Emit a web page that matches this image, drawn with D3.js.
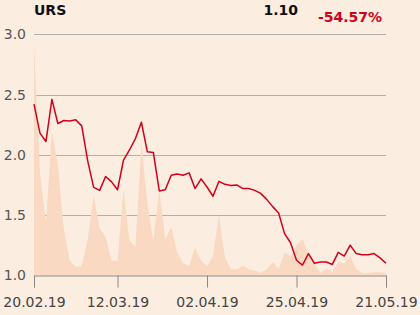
<!DOCTYPE html>
<html>
<head>
<meta charset="utf-8">
<script src="https://cdn.jsdelivr.net/npm/d3@7"></script>
<style>
  body { margin: 0; background: #fcede1; }
  svg { display: block; font-family: "DejaVu Sans", sans-serif; }
</style>
</head>
<body>
<div id="chart"></div>
<script>
// closing prices, one per trading day (20.02.19 .. 21.05.19)
const prices = [
  2.42, 2.18, 2.11, 2.46, 2.26, 2.285, 2.28, 2.29, 2.24, 1.95,
  1.73, 1.705, 1.82, 1.775, 1.71, 1.955, 2.04, 2.135, 2.27, 2.025,
  2.02, 1.70, 1.71, 1.83, 1.84, 1.83, 1.85, 1.72, 1.80, 1.733,
  1.656, 1.78, 1.755, 1.745, 1.75, 1.72, 1.72, 1.705, 1.68, 1.63,
  1.57, 1.517, 1.346, 1.27, 1.125, 1.085, 1.18, 1.10, 1.11, 1.11,
  1.09, 1.19, 1.16, 1.25, 1.18, 1.17, 1.17, 1.18, 1.145, 1.10
];

// volume band, already drawn in price-axis units
const volumeBand = [
  2.91, 1.85, 1.44, 2.19, 1.92, 1.38, 1.12, 1.07, 1.075, 1.30,
  1.66, 1.39, 1.32, 1.12, 1.12, 1.71, 1.29, 1.24, 2.09, 1.60,
  1.29, 1.71, 1.30, 1.40, 1.19, 1.10, 1.08, 1.23, 1.12, 1.075,
  1.16, 1.50, 1.15, 1.05, 1.05, 1.08, 1.05, 1.04, 1.02, 1.05,
  1.11, 1.055, 1.19, 1.16, 1.25, 1.30, 1.18, 1.10, 1.02, 1.055,
  1.03, 1.11, 1.10, 1.16, 1.055, 1.02, 1.02, 1.025, 1.025, 1.02
];

const tickIndex = [0, 14, 29, 44, 59];
const tickLabels = ["20.02.19", "12.03.19", "02.04.19", "25.04.19", "21.05.19"];
const yTicks = [1.0, 1.5, 2.0, 2.5, 3.0];

const width = 420, height = 315;
const margin = { top: 34, right: 34, bottom: 40, left: 34 };

const svg = d3.select("#chart").append("svg")
  .attr("width", width)
  .attr("height", height);

svg.append("rect").attr("width", width).attr("height", height).attr("fill", "#fcede1");

const x = d3.scaleLinear()
  .domain([0, prices.length - 1])
  .range([margin.left, width - margin.right]);

const y = d3.scaleLinear()
  .domain([1, 3])
  .range([275.3, 34.3]);

// grid
svg.append("g")
  .selectAll("line")
  .data(yTicks.filter((d) => d > 1))
  .join("line")
  .attr("x1", x(0))
  .attr("x2", x(prices.length - 1))
  .attr("y1", (d) => Math.round(y(d)) + 0.5)
  .attr("y2", (d) => Math.round(y(d)) + 0.5)
  .attr("stroke", "#b3afab")
  .attr("stroke-width", 1);

// volume area
const area = d3.area()
  .x((d, i) => x(i))
  .y0(y(1))
  .y1((d) => y(d));

svg.append("path")
  .datum(volumeBand)
  .attr("d", area)
  .attr("fill", "#f9d9c2");

// y labels
svg.append("g")
  .selectAll("text")
  .data(yTicks)
  .join("text")
  .attr("x", 26)
  .attr("y", (d) => y(d))
  .attr("dy", "0.36em")
  .attr("text-anchor", "end")
  .attr("font-size", 14)
  .attr("fill", "#555")
  .text((d) => d.toFixed(1));

// x axis
const xAxis = d3.axisBottom(x)
  .tickValues(tickIndex)
  .tickFormat((d, i) => tickLabels[i])
  .tickSizeOuter(0)
  .tickSize(12)
  .tickPadding(10);

const gx = svg.append("g")
  .attr("transform", `translate(0,${Math.round(y(1)) + 0.5})`)
  .call(xAxis);
gx.select(".domain").attr("stroke", "#8a8784");
gx.selectAll(".tick line").attr("stroke", "#8a8784");
gx.selectAll(".tick text")
  .attr("font-size", 14)
  .attr("font-family", "DejaVu Sans, sans-serif")
  .attr("fill", "#444");

// price line
const line = d3.line()
  .x((d, i) => x(i))
  .y((d) => y(d));

svg.append("path")
  .datum(prices)
  .attr("d", line)
  .attr("fill", "none")
  .attr("stroke", "#d0021b")
  .attr("stroke-width", 1.5)
  .attr("stroke-linejoin", "round");

// header
svg.append("text")
  .attr("x", 34)
  .attr("y", 15)
  .attr("font-size", 14)
  .attr("font-weight", "bold")
  .attr("fill", "#111")
  .text("URS");

svg.append("text")
  .attr("x", 298)
  .attr("y", 15)
  .attr("text-anchor", "end")
  .attr("font-size", 14)
  .attr("font-weight", "bold")
  .attr("fill", "#111")
  .text("1.10");

svg.append("text")
  .attr("x", 382)
  .attr("y", 21.5)
  .attr("text-anchor", "end")
  .attr("font-size", 14)
  .attr("font-weight", "bold")
  .attr("fill", "#d0021b")
  .text("-54.57%");
</script>
</body>
</html>
